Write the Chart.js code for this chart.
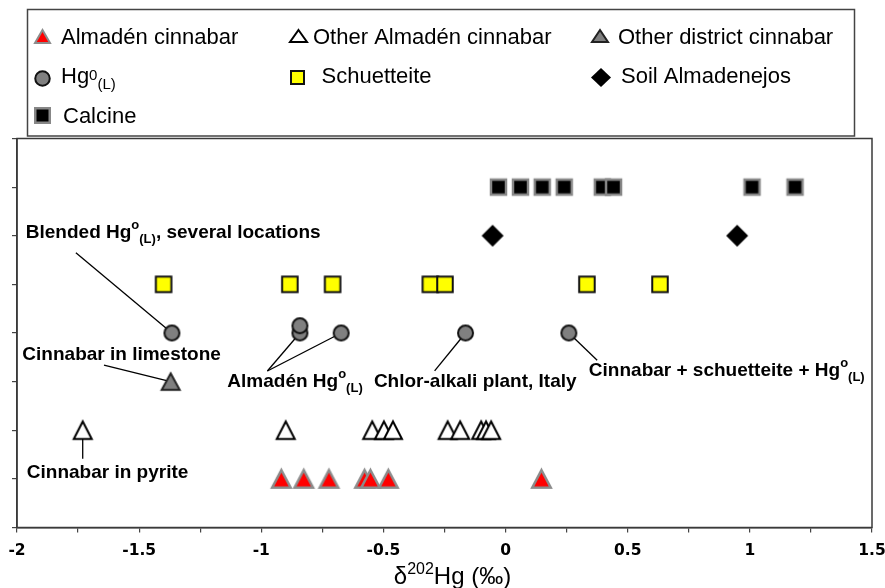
<!DOCTYPE html>
<html>
<head>
<meta charset="utf-8">
<script src="https://cdn.jsdelivr.net/npm/chart.js@4.4.0/dist/chart.umd.min.js"></script>
<style>
html,body{margin:0;padding:0;background:#fff;}
#wrap{width:885px;height:588px;position:relative;}
</style>
</head>
<body>
<div id="wrap"><canvas id="c" width="885" height="588"></canvas></div>
<script>
// ---------- data ----------
const seriesNames = ['Almadén cinnabar', 'Other Almadén cinnabar', 'Other district cinnabar',
                     'Hg', 'Schuetteite', 'Soil Almadenejos', 'Calcine'];
const almadenCinnabarX = [-0.918, -0.826, -0.723, -0.577, -0.553, -0.480, 0.147];
const otherAlmadenCinnabarX = [-1.731, -0.900, -0.546, -0.498, -0.461, -0.237, -0.186, -0.100, -0.080, -0.059];
const otherDistrictCinnabarX = [-1.371];
const hg0X = [-1.366, -0.842, -0.842, -0.673, -0.164, 0.259];
const hg0Y = [4, 4, 4.15, 4, 4, 4];
const schuetteiteX = [-1.400, -0.883, -0.708, -0.308, -0.248, 0.333, 0.632];
const soilX = [-0.053, 0.948];
const calcineX = [-0.029, 0.061, 0.150, 0.240, 0.396, 0.442, 1.009, 1.185];
const rowAlmaden = 1, rowOtherAlmaden = 2, rowOtherDistrict = 3, rowSchuetteite = 5, rowSoil = 6, rowCalcine = 7;
const xTickLabels = ['-2', '-1.5', '-1', '-0.5', '0', '0.5', '1', '1.5'];

// ---------- marker images ----------
const PAD = 4;
function marker(shape, w, h, fill, stroke, lw) {
  const c = document.createElement('canvas');
  c.width = Math.round(w + 2 * PAD); c.height = Math.round(h + 2 * PAD);
  const g = c.getContext('2d');
  g.translate((c.width - w) / 2, (c.height - h) / 2);
  g.beginPath();
  if (shape === 'triangle') { g.moveTo(w / 2, 0); g.lineTo(w, h); g.lineTo(0, h); g.closePath(); }
  else if (shape === 'circle') { g.arc(w / 2, h / 2, w / 2, 0, Math.PI * 2); }
  else if (shape === 'rect') { g.rect(0, 0, w, h); }
  else if (shape === 'diamond') { g.moveTo(w / 2, 0); g.lineTo(w, h / 2); g.lineTo(w / 2, h); g.lineTo(0, h / 2); g.closePath(); }
  g.fillStyle = fill; g.fill();
  if (lw) { g.lineWidth = lw; g.strokeStyle = stroke; g.lineJoin = 'miter'; g.stroke(); }
  return c;
}
const M = {
  red: marker('triangle', 18.5, 17.5, '#ff0000', '#8c8c8c', 2.5),
  white: marker('triangle', 18, 17.5, '#ffffff', '#000000', 2),
  grey: marker('triangle', 18, 16.5, '#7f7f7f', '#222222', 2),
  circle: marker('circle', 15, 15, '#808080', '#111111', 2),
  yellow: marker('rect', 15.5, 15.5, '#ffff00', '#111111', 2),
  diamond: marker('diamond', 22, 22, '#000000', null, 0),
  calcine: marker('rect', 15, 15, '#000000', '#878787', 2.5)
};
const L = {
  red: marker('triangle', 15, 13, '#ff0000', '#8c8c8c', 2),
  white: marker('triangle', 17, 12, '#ffffff', '#000000', 2),
  grey: marker('triangle', 16, 12, '#7f7f7f', '#222222', 2),
  circle: marker('circle', 14.5, 14.5, '#808080', '#111111', 2),
  yellow: marker('rect', 13, 13, '#ffff00', '#111111', 2),
  diamond: marker('diamond', 20, 19, '#000000', null, 0),
  calcine: marker('rect', 14.5, 14.5, '#000000', '#878787', 2.5)
};

function pts(xs, y) { return xs.map((x, i) => ({ x: x, y: Array.isArray(y) ? y[i] : y })); }

// ---------- annotations (anchored in data units) ----------
const SUPO = [{ t: 'o', sup: true }, { t: '(L)', sub: true }];
const annotations = [
  { parts: [{ t: 'Blended Hg' }, ...SUPO, { t: ', several locations' }], x: -1.964, y: 5.947 },
  { parts: [{ t: 'Cinnabar in limestone' }], x: -1.978, y: 3.44 },
  { parts: [{ t: 'Almadén Hg' }, ...SUPO], x: -1.139, y: 2.884 },
  { parts: [{ t: 'Chlor-alkali plant, Italy' }], x: -0.539, y: 2.884 },
  { parts: [{ t: 'Cinnabar + schuetteite + Hg' }, ...SUPO], x: 0.341, y: 3.11 },
  { parts: [{ t: 'Cinnabar in pyrite' }], x: -1.96, y: 1.01 }
];
const leaders = [
  [-1.759, 5.650, -1.366, 4],
  [-1.644, 3.337, -1.371, 3],
  [-0.975, 3.218, -0.842, 4],
  [-0.975, 3.218, -0.673, 4],
  [-0.2905, 3.22, -0.164, 4],
  [0.375, 3.44, 0.259, 4],
  [-1.731, 1.415, -1.731, 2]
];

const FONT = '"Liberation Sans", Arial, Helvetica, sans-serif';
function drawRich(ctx, parts, x, y, size, subSize, bold, supShift, subShift) {
  const w = bold ? 'bold ' : '';
  ctx.textAlign = 'left'; ctx.textBaseline = 'alphabetic'; ctx.fillStyle = '#000';
  let cx = x;
  for (const p of parts) {
    const s = (p.sup || p.sub) ? subSize : size;
    ctx.font = w + s + 'px ' + FONT;
    const dy = p.sup ? -supShift : (p.sub ? subShift : 0);
    ctx.fillText(p.t, cx, y + dy);
    cx += ctx.measureText(p.t).width;
  }
  return cx - x;
}

const decor = {
  id: 'decor',
  beforeDatasetsDraw(chart) {
    const { ctx, scales: { x, y } } = chart;
    ctx.save();
    ctx.strokeStyle = '#000'; ctx.lineWidth = 1.3;
    for (const l of leaders) {
      ctx.beginPath();
      ctx.moveTo(x.getPixelForValue(l[0]), y.getPixelForValue(l[1]));
      ctx.lineTo(x.getPixelForValue(l[2]), y.getPixelForValue(l[3]));
      ctx.stroke();
    }
    ctx.restore();
  },
  afterDatasetsDraw(chart) {
    const { ctx, scales: { x, y } } = chart;
    ctx.save();
    for (const a of annotations) {
      drawRich(ctx, a.parts, x.getPixelForValue(a.x), y.getPixelForValue(a.y), 19, 13, true, 9, 5);
    }
    ctx.restore();
  },
  afterDraw(chart) {
    const { ctx, chartArea: ca } = chart;
    ctx.save();
    // plot frame
    ctx.strokeStyle = '#3a3a3a'; ctx.lineWidth = 1.5;
    ctx.strokeRect(ca.left, ca.top, ca.right - ca.left, ca.bottom - ca.top);
    // x-axis title
    ctx.fillStyle = '#000';
    const titleParts = [{ t: 'δ' }, { t: '202', sup: true }, { t: 'Hg (‰)' }];
    let tw = 0;
    for (const p of titleParts) { ctx.font = (p.sup ? 16 : 24) + 'px ' + FONT; tw += ctx.measureText(p.t).width; }
    drawRich(ctx, titleParts, (ca.left + ca.right) / 2 + 8 - tw / 2, 584, 24, 16, false, 10, 0);
    // legend box
    ctx.strokeStyle = '#444'; ctx.lineWidth = 1.5;
    ctx.strokeRect(27.5, 9.5, 827, 126.5);
    const items = [
      { m: L.red, mx: 42, my: 36, tx: 61, ty: 43.5, parts: [{ t: seriesNames[0] }] },
      { m: L.white, mx: 298, my: 36, tx: 313, ty: 43.5, parts: [{ t: seriesNames[1] }] },
      { m: L.grey, mx: 600, my: 36, tx: 618, ty: 43.5, parts: [{ t: seriesNames[2] }] },
      { m: L.circle, mx: 42, my: 78, tx: 61, ty: 83.3, parts: [{ t: seriesNames[3] }, { t: '0', sup: true }, { t: '(L)', sub: true }] },
      { m: L.yellow, mx: 297.5, my: 77, tx: 321.5, ty: 83.3, parts: [{ t: seriesNames[4] }] },
      { m: L.diamond, mx: 601, my: 77.5, tx: 621, ty: 83.3, parts: [{ t: seriesNames[5] }] },
      { m: L.calcine, mx: 42, my: 115.5, tx: 63, ty: 123.3, parts: [{ t: seriesNames[6] }] }
    ];
    for (const it of items) {
      ctx.drawImage(it.m, Math.round(it.mx - it.m.width / 2), Math.round(it.my - it.m.height / 2));
      drawRich(ctx, it.parts, it.tx, it.ty, 22, 15, false, 3.5, 5.5);
    }
    ctx.restore();
  }
};

const datasets = [
  { label: seriesNames[0], data: pts(almadenCinnabarX, rowAlmaden), pointStyle: M.red },
  { label: seriesNames[1], data: pts(otherAlmadenCinnabarX, rowOtherAlmaden), pointStyle: M.white },
  { label: seriesNames[2], data: pts(otherDistrictCinnabarX, rowOtherDistrict), pointStyle: M.grey },
  { label: seriesNames[3], data: pts(hg0X, hg0Y), pointStyle: M.circle },
  { label: seriesNames[4], data: pts(schuetteiteX, rowSchuetteite), pointStyle: M.yellow },
  { label: seriesNames[5], data: pts(soilX, rowSoil), pointStyle: M.diamond },
  { label: seriesNames[6], data: pts(calcineX, rowCalcine), pointStyle: M.calcine }
].map(d => Object.assign(d, { pointRadius: 10, pointHoverRadius: 10, showLine: false }));

new Chart(document.getElementById('c'), {
  type: 'scatter',
  data: { datasets },
  options: {
    responsive: false, animation: false, devicePixelRatio: 1,
    layout: { padding: { left: 11, right: 13, top: 138.5, bottom: 0 } },
    plugins: { legend: { display: false }, tooltip: { enabled: false } },
    scales: {
      x: {
        type: 'linear', min: -2, max: 1.5, position: 'bottom',
        afterFit(s) { s.height = 60.5; s.paddingLeft = 0; s.paddingRight = 0; },
        ticks: {
          stepSize: 0.25, autoSkip: false, maxRotation: 0, padding: 9, color: '#000',
          font: { family: 'DejaVu Sans', weight: 'bold', size: 15.5 },
          callback(v) {
            const k = Math.round((v + 2) * 2);
            return Math.abs((v + 2) * 2 - k) < 1e-6 ? xTickLabels[k] : '';
          }
        },
        grid: { drawOnChartArea: false, drawTicks: true, tickLength: 5, color: '#444', lineWidth: 1.2 },
        border: { display: true, color: '#3a3a3a', width: 1.5 }
      },
      y: {
        type: 'linear', min: 0, max: 8,
        afterFit(s) { s.width = 6; s.paddingTop = 0; s.paddingBottom = 0; },
        ticks: { display: false, stepSize: 1 },
        grid: { drawOnChartArea: false, drawTicks: true, tickLength: 5, color: '#444', lineWidth: 1.2 },
        border: { display: true, color: '#3a3a3a', width: 1.5 }
      }
    }
  },
  plugins: [decor]
});
</script>
</body>
</html>
